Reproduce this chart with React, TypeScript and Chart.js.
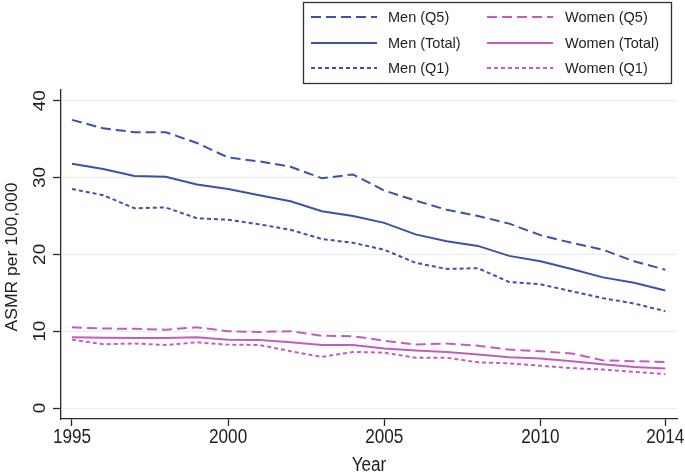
import React, { useEffect, useRef } from "react";
import { Chart, registerables } from "chart.js";

Chart.register(...registerables);

const years = [1995, 1996, 1997, 1998, 1999, 2000, 2001, 2002, 2003, 2004, 2005, 2006, 2007, 2008, 2009, 2010, 2011, 2012, 2013, 2014];
const menQ5 = [37.5, 36.4, 35.9, 35.9, 34.5, 32.6, 32.1, 31.4, 29.9, 30.4, 28.3, 27.0, 25.8, 25.0, 24.0, 22.5, 21.5, 20.6, 19.1, 18.0];
const menTotal = [31.8, 31.1, 30.2, 30.1, 29.1, 28.5, 27.7, 26.9, 25.6, 25.0, 24.1, 22.6, 21.7, 21.1, 19.8, 19.1, 18.1, 17.0, 16.3, 15.3];
const menQ1 = [28.5, 27.7, 26.0, 26.1, 24.7, 24.5, 23.9, 23.2, 22.0, 21.5, 20.6, 18.9, 18.1, 18.2, 16.4, 16.1, 15.2, 14.3, 13.6, 12.6];
const womenQ5 = [10.5, 10.35, 10.3, 10.2, 10.5, 10.0, 9.9, 10.0, 9.4, 9.35, 8.75, 8.25, 8.4, 8.1, 7.6, 7.4, 7.1, 6.2, 6.1, 6.0];
const womenTotal = [9.2, 9.15, 9.1, 9.1, 9.2, 8.9, 8.85, 8.55, 8.2, 8.2, 7.75, 7.5, 7.3, 6.95, 6.6, 6.45, 6.1, 5.7, 5.35, 5.15];
const womenQ1 = [8.9, 8.3, 8.4, 8.2, 8.55, 8.25, 8.2, 7.4, 6.65, 7.3, 7.2, 6.55, 6.55, 5.95, 5.8, 5.5, 5.2, 5.0, 4.7, 4.4];

const xTicks = [1995, 2000, 2005, 2010, 2014];
const yTicks = [0, 10, 20, 30, 40];
const xTitle = "Year";
const yTitle = "ASMR per 100,000";

const BLUE = "#3b51ad";
const PINK = "#c65bbf";
const DASH_Q5 = [10, 5];
const DASH_Q1 = [4, 3];
const FONT = "'Liberation Sans', Arial, Helvetica, sans-serif";
const TEXT = "#1e1e1e";
const AXIS = "#2a2a2a";

const pts = (vals: number[]) => years.map((y, i) => ({ x: y, y: vals[i] }));

function sqText(
  ctx: CanvasRenderingContext2D,
  text: string,
  x: number,
  y: number,
  sx: number,
  rotated: boolean
) {
  ctx.save();
  ctx.translate(x, y);
  ctx.scale(sx, 1);
  if (rotated) ctx.rotate(-Math.PI / 2);
  ctx.fillText(text, 0, 0);
  ctx.restore();
}

const textPlugin = {
  id: "stataText",
  afterDraw(chart: any) {
    const ctx = chart.ctx as CanvasRenderingContext2D;
    ctx.save();
    // legend
    ctx.strokeStyle = "#333";
    ctx.lineWidth = 1.3;
    ctx.strokeRect(303.5, 2.5, 368, 81);
    const ds = chart.data.datasets;
    const cols = [
      { lx: 311, tx: 388 },
      { lx: 487, tx: 565 },
    ];
    const rows = [17, 43, 68];
    ds.forEach((d: any, i: number) => {
      const col = cols[i < 3 ? 0 : 1];
      const y = rows[i % 3];
      ctx.beginPath();
      ctx.setLineDash(d.borderDash || []);
      ctx.strokeStyle = d.borderColor;
      ctx.lineWidth = 2;
      ctx.moveTo(col.lx, y);
      ctx.lineTo(col.lx + 66, y);
      ctx.stroke();
      ctx.setLineDash([]);
      ctx.fillStyle = TEXT;
      ctx.font = `14.5px ${FONT}`;
      ctx.textAlign = "left";
      ctx.textBaseline = "middle";
      ctx.fillText(d.label, col.tx, y + 1);
    });

    ctx.fillStyle = TEXT;
    ctx.textAlign = "center";
    ctx.textBaseline = "alphabetic";
    // y tick labels (rotated)
    const ys = chart.scales.y;
    ctx.font = `19px ${FONT}`;
    ys.ticks.forEach((t: any) => {
      sqText(ctx, String(t.value), 45, ys.getPixelForValue(t.value), 0.82, true);
    });
    // x tick labels
    const xs = chart.scales.x;
    ctx.font = `19.5px ${FONT}`;
    xs.ticks.forEach((t: any) => {
      sqText(ctx, String(t.value), xs.getPixelForValue(t.value), 443, 0.88, false);
    });
    // axis titles
    const area = chart.chartArea;
    ctx.font = `19.5px ${FONT}`;
    sqText(ctx, xTitle, (area.left + area.right) / 2, 471, 0.88, false);
    ctx.font = `17.5px ${FONT}`;
    sqText(ctx, yTitle, 16.5, 257, 0.96, true);
    ctx.restore();
  },
};

export default function App() {
  const ref = useRef<HTMLCanvasElement | null>(null);
  useEffect(() => {
    if (!ref.current) return;
    const mk = (label: string, vals: number[], color: string, dash: number[]) => ({
      label,
      data: pts(vals),
      borderColor: color,
      backgroundColor: color,
      borderWidth: 2,
      borderDash: dash,
      pointRadius: 0,
      tension: 0,
      fill: false,
    });
    const chart = new Chart(ref.current, {
      type: "line",
      data: {
        datasets: [
          mk("Men (Q5)", menQ5, BLUE, DASH_Q5),
          mk("Men (Total)", menTotal, BLUE, []),
          mk("Men (Q1)", menQ1, BLUE, DASH_Q1),
          mk("Women (Q5)", womenQ5, PINK, DASH_Q5),
          mk("Women (Total)", womenTotal, PINK, []),
          mk("Women (Q1)", womenQ1, PINK, DASH_Q1),
        ],
      },
      options: {
        animation: false,
        responsive: true,
        maintainAspectRatio: false,
        layout: { padding: { left: 0, top: 90, right: 8, bottom: 0 } },
        plugins: { legend: { display: false }, tooltip: { enabled: false } },
        scales: {
          x: {
            type: "linear",
            min: 1994.648,
            max: 2014.375,
            afterBuildTicks: (s: any) => {
              s.ticks = xTicks.map((v) => ({ value: v }));
            },
            afterFit: (s: any) => {
              s.height = 56;
            },
            grid: { drawOnChartArea: false, drawTicks: true, tickLength: 7, tickColor: AXIS, tickWidth: 1.3 },
            border: { color: AXIS, width: 1.3 },
            ticks: { display: false },
          },
          y: {
            type: "linear",
            min: -1.43,
            max: 41.39,
            afterBuildTicks: (s: any) => {
              s.ticks = yTicks.map((v) => ({ value: v }));
            },
            afterFit: (s: any) => {
              s.width = 61;
            },
            grid: { color: "#e5edf0", lineWidth: 1, drawTicks: true, tickLength: 8, tickColor: AXIS, tickWidth: 1.3 },
            border: { color: AXIS, width: 1.3 },
            ticks: { display: false },
          },
        },
      },
      plugins: [textPlugin],
    });
    return () => chart.destroy();
  }, []);
  return (
    <div style={{ position: "absolute", left: 0, top: 0, width: 685, height: 475, background: "#fff" }}>
      <canvas ref={ref} />
    </div>
  );
}
